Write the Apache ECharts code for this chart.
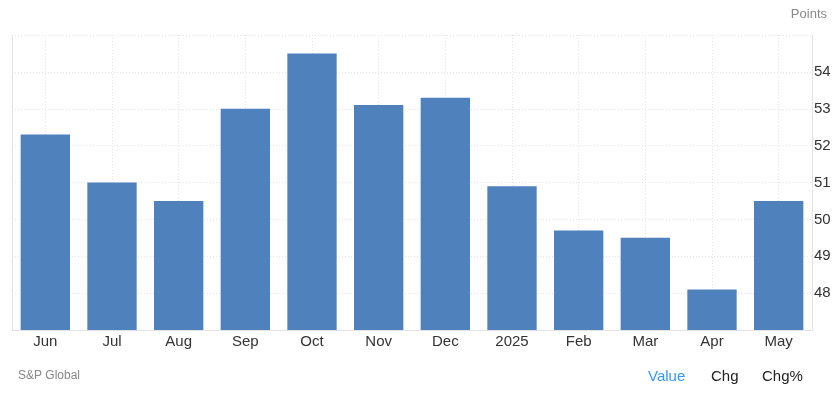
<!DOCTYPE html>
<html>
<head>
<meta charset="utf-8">
<script src="https://cdn.jsdelivr.net/npm/echarts@6/dist/echarts.min.js"></script>
<style>
html,body{margin:0;padding:0;background:#fff;}
#chart{width:840px;height:393px;}
</style>
</head>
<body>
<div id="chart"></div>
<script>
const categories = ['Jun','Jul','Aug','Sep','Oct','Nov','Dec','2025','Feb','Mar','Apr','May'];
const values = [52.3, 51.0, 50.5, 53.0, 54.5, 53.1, 53.3, 50.9, 49.7, 49.5, 48.1, 50.5];
const yTicks = [48, 49, 50, 51, 52, 53, 54];
const yMin = 47, yMax = 55;
const unitLabel = 'Points';
const sourceLabel = 'S&P Global';
const tabs = ['Value', 'Chg', 'Chg%'];

const helperCats = [];
for (let i = 0; i <= categories.length * 2; i++) helperCats.push(String(i));

const chart = echarts.init(document.getElementById('chart'), null, {renderer: 'canvas'});
const font = 'Arial, "Liberation Sans", sans-serif';
chart.setOption({
  animation: false,
  grid: {left: 12, right: 28, top: 35, bottom: 63, containLabel: false},
  xAxis: [{
    type: 'category',
    data: categories,
    boundaryGap: true,
    axisLine: {show: true, lineStyle: {color: '#e3e3e3', width: 1}},
    axisTick: {show: false},
    splitLine: {show: false},
    axisLabel: {color: '#333', fontSize: 15, fontFamily: font, margin: 4}
  }, {
    type: 'category',
    data: helperCats,
    boundaryGap: false,
    position: 'bottom',
    axisLine: {show: false},
    axisTick: {show: false},
    axisLabel: {show: false},
    splitLine: {show: true, interval: function (i) { return i % 2 === 1; },
      lineStyle: {color: '#e3e3e3', type: [1, 2], width: 1}}
  }],
  yAxis: [{
    type: 'value',
    position: 'right',
    min: yMin, max: yMax, interval: 1,
    axisLine: {show: true, lineStyle: {color: '#e3e3e3', width: 1}},
    axisTick: {show: false},
    axisLabel: {color: '#333', fontSize: 15, fontFamily: font, margin: 2,
      formatter: function (v) { return yTicks.indexOf(v) >= 0 ? String(v) : ''; }},
    splitLine: {show: true, lineStyle: {color: '#e3e3e3', type: [1, 2], width: 1}}
  }, {
    type: 'value',
    position: 'left',
    min: yMin, max: yMax, interval: 1,
    axisLine: {show: true, lineStyle: {color: '#e3e3e3', width: 1}},
    axisTick: {show: false},
    axisLabel: {show: false},
    splitLine: {show: false}
  }],
  series: [{
    type: 'bar',
    data: values,
    xAxisIndex: 0,
    yAxisIndex: 0,
    barWidth: '74%',
    itemStyle: {color: '#4f81bd'},
    z: 3
  }],
  graphic: [
    {type: 'text', right: 13, top: 8, style: {text: unitLabel, fill: '#888', font: '13px ' + font}},
    {type: 'text', left: 18, top: 370, style: {text: sourceLabel, fill: '#888', font: '12px ' + font}},
    {type: 'text', left: 648, top: 369, style: {text: tabs[0], fill: '#3399ee', font: '15px ' + font}},
    {type: 'text', left: 711, top: 369, style: {text: tabs[1], fill: '#222', font: '15px ' + font}},
    {type: 'text', left: 762, top: 369, style: {text: tabs[2], fill: '#222', font: '15px ' + font}}
  ]
});
</script>
</body>
</html>
